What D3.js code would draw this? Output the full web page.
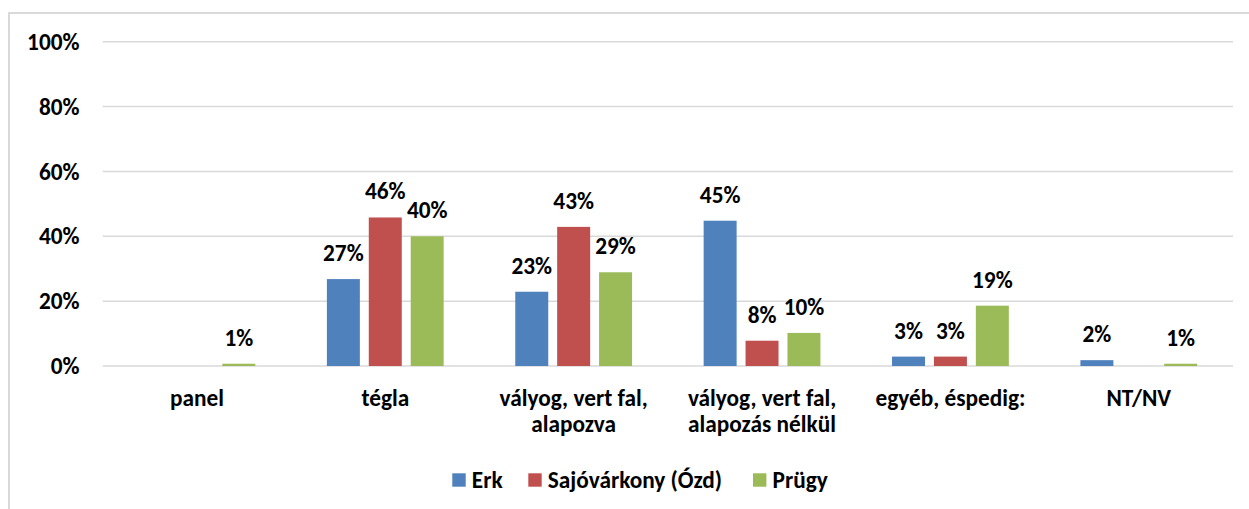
<!DOCTYPE html>
<html>
<head>
<meta charset="utf-8">
<script src="https://cdn.jsdelivr.net/npm/d3@7"></script>
<style>
  body { margin: 0; background: #fff; }
  text { font-family: Carlito, Calibri, Lato, sans-serif; font-weight: bold; fill: #000; }
</style>
</head>
<body>
<div id="chart"></div>
<script>
var categories = [
    ["panel"],
    ["tégla"],
    ["vályog, vert fal,", "alapozva"],
    ["vályog, vert fal,", "alapozás nélkül"],
    ["egyéb, éspedig:"],
    ["NT/NV"]
];
var seriesNames = ["Erk", "Sajóvárkony (Ózd)", "Prügy"];
var erk = [null, 26.8, 22.9, 44.8, 2.9, 1.8];
var sajovarkony = [null, 45.8, 42.9, 7.8, 2.9, null];
var prugy = [0.7, 40.0, 28.9, 10.2, 18.6, 0.7];
var yTicks = [0, 20, 40, 60, 80, 100];
var colors = ["#4f81bd", "#c0504d", "#9bbb59"];

var width = 1249,
    height = 509;
var margin = { left: 102.7, right: 16, top: 41.7, bottom: 143 };
var fontSize = "23.3px";

var svg = d3.select("#chart")
    .append("svg")
    .attr("width", width)
    .attr("height", height);

// chart area border (left + top visible)
svg.append("path")
    .attr("d", "M9,509 V13 H1249")
    .attr("fill", "none")
    .attr("stroke", "#d9d9d9")
    .attr("stroke-width", 2);

var x0 = d3.scaleBand()
    .domain(d3.range(categories.length))
    .range([margin.left, width - margin.right]);

var groupWidth = x0.bandwidth() * 0.62;
var x1 = d3.scaleBand()
    .domain(seriesNames)
    .range([0, groupWidth])
    .paddingInner(0.213);

var y = d3.scaleLinear()
    .domain([0, 100])
    .range([height - margin.bottom, margin.top]);

// gridlines
svg.append("g")
    .selectAll("line")
    .data(yTicks)
    .enter().append("line")
    .attr("x1", margin.left)
    .attr("x2", width - margin.right)
    .attr("y1", function (d) { return y(d); })
    .attr("y2", function (d) { return y(d); })
    .attr("stroke", "#d9d9d9")
    .attr("stroke-width", 1.5);

// y axis labels
svg.append("g")
    .selectAll("text")
    .data(yTicks)
    .enter().append("text")
    .attr("x", 79.5)
    .attr("y", function (d) { return y(d); })
    .attr("dy", "0.35em")
    .attr("text-anchor", "end")
    .style("font-size", fontSize)
    .text(function (d) { return d + "%"; });

var series = [erk, sajovarkony, prugy];
var barData = [];
series.forEach(function (vals, s) {
    vals.forEach(function (v, i) {
        if (v !== null) barData.push({ cat: i, s: s, value: v });
    });
});

function barX(d) {
    return x0(d.cat) + (x0.bandwidth() - groupWidth) / 2 + x1(seriesNames[d.s]);
}

svg.append("g")
    .selectAll("rect")
    .data(barData)
    .enter().append("rect")
    .attr("x", barX)
    .attr("width", x1.bandwidth())
    .attr("y", function (d) { return y(d.value); })
    .attr("height", function (d) { return y(0) - y(d.value); })
    .attr("fill", function (d) { return colors[d.s]; });

// value labels
svg.append("g")
    .selectAll("text")
    .data(barData)
    .enter().append("text")
    .attr("x", function (d) { return barX(d) + x1.bandwidth() / 2; })
    .attr("y", function (d) { return y(d.value) - 18; })
    .attr("text-anchor", "middle")
    .style("font-size", fontSize)
    .text(function (d) { return Math.round(d.value) + "%"; });

// category labels
var catG = svg.append("g")
    .selectAll("text")
    .data(categories)
    .enter().append("text")
    .attr("x", function (d, i) { return x0(i) + x0.bandwidth() / 2; })
    .attr("y", 406)
    .attr("text-anchor", "middle")
    .style("font-size", fontSize);

catG.selectAll("tspan")
    .data(function (d) { return d; })
    .enter().append("tspan")
    .attr("x", function () { return d3.select(this.parentNode).attr("x"); })
    .attr("dy", function (d, i) { return i === 0 ? 0 : 25.5; })
    .text(function (d) { return d; });

// legend
var legendX = [452.3, 528.3, 753];
var legend = svg.append("g")
    .selectAll("g")
    .data(seriesNames)
    .enter().append("g")
    .attr("transform", function (d, i) { return "translate(" + legendX[i] + ",480)"; });

legend.append("rect")
    .attr("x", 0)
    .attr("y", -6.7)
    .attr("width", 13.4)
    .attr("height", 13.4)
    .attr("fill", function (d, i) { return colors[i]; });

legend.append("text")
    .attr("x", 19.5)
    .attr("y", 0)
    .attr("dy", "0.35em")
    .style("font-size", fontSize)
    .text(function (d) { return d; });
</script>
</body>
</html>
